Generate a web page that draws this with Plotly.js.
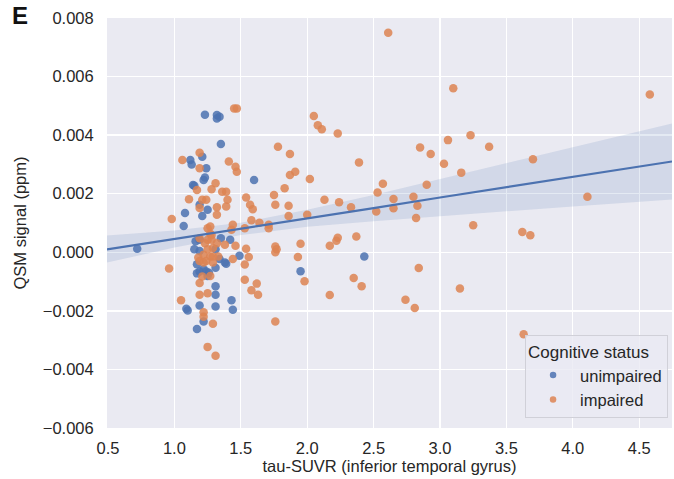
<!DOCTYPE html>
<html>
<head>
<meta charset="utf-8">
<script src="https://cdn.plot.ly/plotly-3.0.1.min.js"></script>
<style>html,body{margin:0;padding:0;background:#fff;}#chart{width:674px;height:479px;}</style>
</head>
<body>
<div id="chart"></div>
<script>
// ---- data ----
const unimpairedX = [0.72,1.07,1.08,1.09,1.10,1.12,1.13,1.14,1.15,1.15,1.16,1.17,1.17,1.17,1.19,1.19,1.19,1.19,1.19,1.21,1.21,1.22,1.22,1.22,1.23,1.23,1.24,1.24,1.25,1.25,1.26,1.31,1.31,1.31,1.31,1.31,1.32,1.32,1.34,1.35,1.35,1.34,1.38,1.39,1.42,1.43,1.44,1.49,1.60,1.95,2.43];
const unimpairedY = [0.00012,0.0009,0.00134,-0.00193,-0.00199,0.00315,0.0030,0.0023,0.00227,0.0001,0.00038,-0.00072,-0.00041,-0.00262,0.00004,-0.00066,-0.00182,0.00162,0.00043,0.00326,0.00124,0.00247,-0.00058,-0.00236,0.0047,0.00255,0.00287,-0.00066,0.00145,-0.00081,-0.0007,0.0001,-0.00053,-0.00116,-0.00145,-0.00185,0.00469,0.00457,0.00463,0.0037,0.00048,-0.00023,-0.00035,-0.00039,0.00043,-0.00164,-0.00196,-0.00012,0.00247,-0.00065,-0.00014];

const impairedX = [0.96,0.98,1.05,1.06,1.11,1.17,1.19,1.19,1.19,1.19,1.19,1.18,1.19,1.19,1.21,1.21,1.22,1.22,1.22,1.22,1.23,1.24,1.24,1.25,1.25,1.25,1.25,1.25,1.27,1.27,1.27,1.27,1.28,1.28,1.28,1.29,1.29,1.29,1.29,1.31,1.31,1.32,1.32,1.32,1.33,1.36,1.38,1.39,1.39,1.40,1.41,1.43,1.44,1.44,1.45,1.47,1.46,1.47,1.46,1.53,1.53,1.53,1.54,1.54,1.56,1.57,1.58,1.58,1.59,1.62,1.63,1.64,1.71,1.71,1.75,1.76,1.76,1.77,1.76,1.76,1.78,1.83,1.86,1.86,1.87,1.87,1.91,1.93,1.95,1.98,2.00,2.02,2.05,2.08,2.11,2.13,2.17,2.17,2.22,2.23,2.23,2.24,2.33,2.35,2.37,2.39,2.41,2.52,2.53,2.57,2.61,2.65,2.65,2.74,2.80,2.81,2.82,2.83,2.84,2.85,2.90,2.93,3.03,3.06,3.10,3.15,3.16,3.23,3.25,3.37,3.62,3.63,3.68,3.70,4.11,4.58];
const impairedY = [-0.00055,0.00114,-0.00164,0.00315,0.00181,0.00213,0.0034,0.00287,0.00151,0.00048,-0.0003,-0.00018,-0.00105,-0.00145,0.00179,-0.00083,-0.00035,-0.00008,-0.00205,-0.0022,0.00031,0.00179,-0.0003,0.00082,0.0001,0.00043,-0.0014,-0.00323,0.00063,0.00088,-0.00081,-0.00014,0.00215,0.00059,0.00043,0.00015,-0.00014,-0.00035,-0.00244,0.00236,-0.00353,0.00154,0.00128,0.00031,-0.00014,0.00207,0.00026,0.00207,0.00156,0.00179,0.0031,0.00077,0.00094,-0.00023,0.00491,0.00491,0.00292,0.00275,0.00022,0.00082,-0.00042,-0.00094,0.00187,0.00012,-0.00016,0.00162,0.00109,-0.0013,0.00147,-0.00107,-0.00145,0.00101,0.00094,0.00082,0.00196,0.00162,0.0002,0.0001,0.0,-0.00236,0.0036,0.00219,0.00159,0.00124,0.00264,0.00336,0.00275,-0.00016,0.00029,-0.00099,0.00128,0.0025,0.00465,0.00434,0.0042,0.00179,0.00022,-0.00146,0.00039,0.0005,0.00406,0.00171,0.00154,-0.00088,0.00054,0.00307,-0.00116,0.00139,0.00204,0.00234,0.0075,0.00182,0.0015,-0.00162,0.0019,-0.0019,0.00117,0.00159,-0.00054,0.00358,0.00231,0.00336,0.00302,0.00383,0.0056,-0.00124,0.00272,0.0040,0.00092,0.0036,0.00069,-0.0028,0.00058,0.00318,0.0019,0.00539];

// regression line and its confidence band
const fitX     = [0.4925,1.0,1.5,2.0,2.5,3.0,3.5,4.0,4.747];
const fitY     = [0.0001,0.00045,0.0008,0.00116,0.00151,0.00187,0.00222,0.00257,0.0031];
const bandUp   = [0.00057,0.00074,0.00101,0.00145,0.00196,0.0025,0.00304,0.00358,0.0044];
const bandLow  = [-0.00035,0.00016,0.00059,0.00087,0.00106,0.00124,0.0014,0.00156,0.0018];

const xTicks = [0.5,1.0,1.5,2.0,2.5,3.0,3.5,4.0,4.5];
const yTicks = [-0.006,-0.004,-0.002,0.000,0.002,0.004,0.006,0.008];

const seriesNames = ['unimpaired','impaired'];
const colBlue = '#4C72B0', colOrange = '#DD8452';

const traces = [
  {x: fitX, y: bandLow, mode:'lines', line:{width:0, color:'rgba(0,0,0,0)'}, hoverinfo:'skip', showlegend:false},
  {x: fitX, y: bandUp, mode:'lines', fill:'tonexty', fillcolor:'rgba(76,114,176,0.15)', line:{width:0, color:'rgba(0,0,0,0)'}, hoverinfo:'skip', showlegend:false},
  {x: unimpairedX, y: unimpairedY, mode:'markers', name: seriesNames[0], showlegend:false,
   marker:{color:colBlue, size:8.5, opacity:0.85, line:{width:0}}},
  {x: impairedX, y: impairedY, mode:'markers', name: seriesNames[1], showlegend:false,
   marker:{color:colOrange, size:8.5, opacity:0.85, line:{width:0}}},
  {x: fitX, y: fitY, mode:'lines', line:{color:colBlue, width:2.2}, hoverinfo:'skip', showlegend:false},
  // legend-only entries (smaller legend markers, as in the reference)
  {x:[null], y:[null], mode:'markers', name: seriesNames[0], marker:{color:colBlue, size:6.5, opacity:0.85}},
  {x:[null], y:[null], mode:'markers', name: seriesNames[1], marker:{color:colOrange, size:6.5, opacity:0.85}}
];

const fontFam = '"Liberation Sans", Arial, sans-serif';
const layout = {
  width: 674, height: 479,
  margin: {l:107, r:2, t:18, b:51, pad:0},
  paper_bgcolor:'#ffffff', plot_bgcolor:'#EAEAF2',
  font:{family:fontFam, size:16, color:'#262626'},
  xaxis:{
    range:[0.4925,4.747], tickvals:xTicks, ticktext:xTicks.map(v=>v.toFixed(1)),
    showgrid:true, gridcolor:'#ffffff', gridwidth:1.3, zeroline:false, showline:false,
    ticks:'outside', ticklen:5, tickcolor:'rgba(0,0,0,0)',
    tickfont:{size:16.5, color:'#262626'},
    title:{text:'tau-SUVR (inferior temporal gyrus)', font:{size:16.5, color:'#262626'}, standoff:3}
  },
  yaxis:{
    range:[-0.006,0.008], tickvals:yTicks, ticktext:yTicks.map(v=>(v<0?'\u2212':'')+Math.abs(v).toFixed(3)),
    showgrid:true, gridcolor:'#ffffff', gridwidth:1.3, zeroline:false, showline:false,
    ticks:'outside', ticklen:9, tickcolor:'rgba(0,0,0,0)',
    tickfont:{size:16.5, color:'#262626'},
    title:{text:'QSM signal (ppm)', font:{size:16.5, color:'#262626'}, standoff:11}
  },
  legend:{
    x:0.993, xanchor:'right', y:0.025, yanchor:'bottom', traceorder:'normal',
    bgcolor:'rgba(234,234,242,0.8)', bordercolor:'#d0d0d8', borderwidth:1,
    font:{size:16.5, color:'#262626'},
    title:{text:'Cognitive status', font:{size:17, color:'#262626'}},
    itemwidth:44, tracegroupgap:0
  },
  annotations:[
    {text:'<b>E</b>', xref:'paper', yref:'paper', x:-0.172, y:1.005, xanchor:'left', yanchor:'middle',
     showarrow:false, font:{size:24, color:'#111', family:fontFam}}
  ],
  showlegend:true
};

Plotly.newPlot('chart', traces, layout, {staticPlot:true, displayModeBar:false});
</script>
</body>
</html>
